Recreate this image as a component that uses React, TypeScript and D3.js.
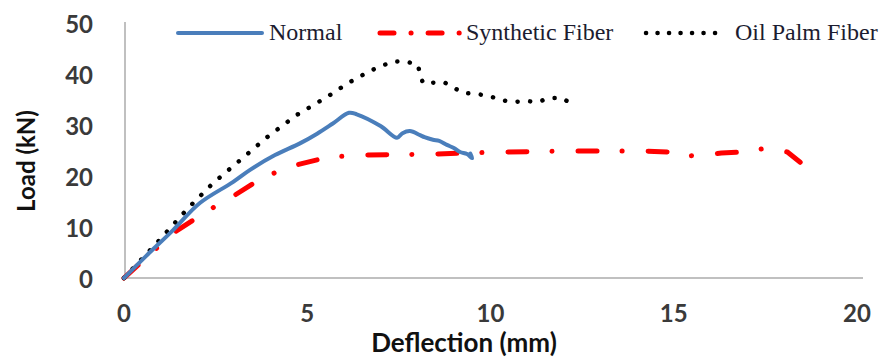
import React from "react";
import * as d3 from "d3";

const normalX = [0, 0.6, 1.34, 2.07, 2.97, 3.44, 4.12, 4.8, 5.27, 5.7, 6.14, 6.35, 7.0, 7.45, 7.6, 7.8, 8.08, 8.2, 8.43, 8.6, 8.81, 9.0, 9.17, 9.36, 9.5, 9.45];
const normalY = [0, 4.3, 9.4, 14.7, 18.8, 21.2, 24.1, 26.4, 28.3, 30.3, 32.4, 32.1, 29.8, 27.5, 28.4, 28.8, 28.0, 27.6, 27.1, 26.9, 26.1, 25.5, 24.7, 24.3, 23.5, 24.4];

const synX = [0, 1.34, 2.26, 2.97, 3.8, 4.72, 5.57, 6.52, 8.43, 10.3, 12.25, 14.2, 14.9, 15.1, 15.3, 15.8, 16.3, 16.9, 17.4, 17.6, 18.1, 18.45];
const synY = [0, 8.8, 13.1, 16.0, 19.8, 22.2, 23.7, 24.1, 24.3, 24.7, 24.9, 24.9, 24.7, 24.5, 23.9, 24.1, 24.5, 24.7, 25.3, 25.5, 24.7, 22.7];

const oilX = [0, 0.9, 1.75, 2.43, 3.17, 3.9, 4.72, 5.54, 6.11, 6.71, 7.31, 7.67, 8.02, 8.08, 8.16, 8.73, 9.25, 9.6, 9.96, 10.29, 10.61, 10.97, 11.3, 11.6, 11.95, 12.22];
const oilY = [0, 6.9, 13.7, 18.6, 23.1, 27.6, 32.0, 35.5, 38.2, 40.6, 42.4, 42.5, 41.8, 39.8, 38.2, 38.4, 36.3, 36.1, 35.7, 34.9, 34.5, 34.7, 34.5, 35.3, 35.3, 34.1];

const xTicks = [0, 5, 10, 15, 20];
const yTicks = [0, 10, 20, 30, 40, 50];
const seriesNames = ["Normal", "Synthetic Fiber", "Oil Palm Fiber"];

const W = 889;
const H = 360;

export default function App() {
  const x = d3.scaleLinear().domain([0, 20]).range([124, 857]);
  const y = d3.scaleLinear().domain([0, 50]).range([278, 23]);
  const line = d3
    .line<[number, number]>()
    .x((d) => x(d[0]))
    .y((d) => y(d[1]));
  const smooth = d3
    .line<[number, number]>()
    .x((d) => x(d[0]))
    .y((d) => y(d[1]))
    .curve(d3.curveCatmullRom.alpha(0.5));
  const zip = (a: number[], b: number[]) => a.map((v, i) => [v, b[i]] as [number, number]);

  const tickFont = "Lato, sans-serif";
  const tickColor = "#3a3a3a";

  return (
    <svg
      width={W}
      height={H}
      style={{ position: "absolute", left: 0, top: 0, background: "#fff" }}
    >
      {/* axes */}
      <line x1={x(0)} x2={863} y1={y(0)} y2={y(0)} stroke="#c0c0c0" strokeWidth={2} />
      <line x1={x(0) + 1} x2={x(0) + 1} y1={y(50) - 1} y2={y(0)} stroke="#c0c0c0" strokeWidth={2} />

      {yTicks.map((t) => (
        <text
          key={"y" + t}
          x={93}
          y={y(t)}
          textAnchor="end"
          dominantBaseline="central"
          fontFamily={tickFont}
          fontWeight="bold"
          fontSize={24}
          fill={tickColor}
        >
          {t}
        </text>
      ))}
      {xTicks.map((t) => (
        <text
          key={"x" + t}
          x={x(t)}
          y={312}
          textAnchor="middle"
          dominantBaseline="central"
          fontFamily={tickFont}
          fontWeight="bold"
          fontSize={24}
          fill={tickColor}
        >
          {t}
        </text>
      ))}
      <text
        x={464}
        y={342}
        textAnchor="middle"
        dominantBaseline="central"
        fontFamily={tickFont}
        fontWeight="bold"
        fontSize={26}
        fill="#111"
      >
        Deflection (mm)
      </text>
      <text
        transform={`translate(25,161) rotate(-90)`}
        textAnchor="middle"
        dominantBaseline="central"
        fontFamily={tickFont}
        fontWeight="bold"
        fontSize={24}
        fill="#111"
      >
        Load (kN)
      </text>

      {/* series */}
      <path
        d={line(zip(synX, synY)) || ""}
        fill="none"
        stroke="#ff0000"
        strokeWidth={5}
        strokeLinecap="round"
        strokeLinejoin="round"
        strokeDasharray="19 25 0.1 26"
      />
      <path
        d={line(zip(oilX, oilY)) || ""}
        fill="none"
        stroke="#000"
        strokeWidth={4.5}
        strokeLinecap="round"
        strokeDasharray="0.1 12.5"
      />
      <path
        d={smooth(zip(normalX, normalY)) || ""}
        fill="none"
        stroke="#4a7ebb"
        strokeWidth={4}
        strokeLinecap="round"
        strokeLinejoin="round"
      />

      {/* legend */}
      <line x1={178} x2={262} y1={33} y2={33} stroke="#4a7ebb" strokeWidth={4} strokeLinecap="round" />
      <text x={269} y={40} fontFamily="'Liberation Serif', serif" fontSize={24} fill="#1c1c30">
        {seriesNames[0]}
      </text>
      <line
        x1={380}
        x2={460}
        y1={33}
        y2={33}
        stroke="#ff0000"
        strokeWidth={5}
        strokeLinecap="round"
        strokeDasharray="14 17 0.1 17"
      />
      <text x={466} y={40} fontFamily="'Liberation Serif', serif" fontSize={24} fill="#1c1c30">
        {seriesNames[1]}
      </text>
      <line
        x1={646}
        x2={726}
        y1={33}
        y2={33}
        stroke="#000"
        strokeWidth={4.5}
        strokeLinecap="round"
        strokeDasharray="0.1 11.4"
      />
      <text x={735} y={40} fontFamily="'Liberation Serif', serif" fontSize={24} fill="#1c1c30">
        {seriesNames[2]}
      </text>
    </svg>
  );
}
